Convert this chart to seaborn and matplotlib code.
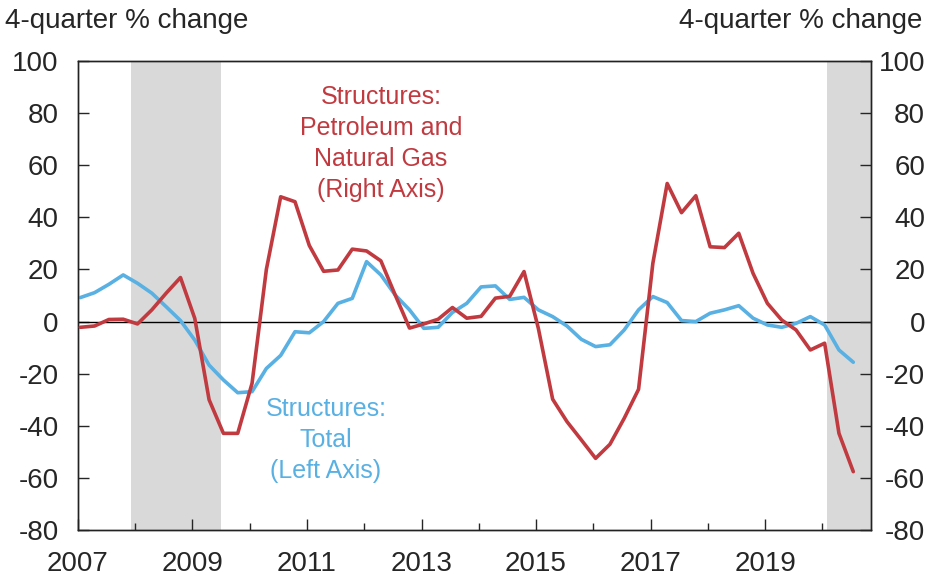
import numpy as np
import pandas as pd
import matplotlib
matplotlib.use("Agg")
import matplotlib.pyplot as plt
import seaborn as sns

# Quarterly data, 2007Q1 .. 2020Q3
start_year = 2007
total_structures = [9.2, 11.1, 14.3, 17.9, 14.7, 10.9, 5.7, 0.4, -7.1, -16.7,
                    -22.4, -27.3, -26.9, -18.0, -13.0, -3.9, -4.3, 0.0, 7.0, 8.9,
                    23.0, 17.9, 10.2, 4.5, -2.6, -2.2, 3.5, 7.0, 13.3, 13.7,
                    8.5, 9.3, 4.5, 1.9, -1.7, -6.8, -9.6, -8.9, -3.2, 4.5,
                    9.6, 7.3, 0.4, 0.0, 3.2, 4.5, 6.1, 1.3, -1.3, -2.2,
                    -0.7, 1.9, -1.3, -10.9, -15.6]
petroleum_gas = [-2.2, -1.7, 0.8, 0.9, -0.9, 4.5, 10.9, 16.9, 1.2, -30.0,
                 -42.9, -42.9, -23.7, 20.0, 47.9, 46.0, 29.2, 19.3, 19.8, 27.8,
                 27.1, 23.3, 10.2, -2.5, -0.9, 0.9, 5.4, 1.3, 2.0, 9.0,
                 9.7, 19.2, -2.6, -29.8, -38.4, -45.4, -52.5, -47.1, -37.1, -26.0,
                 22.4, 53.0, 41.8, 48.3, 28.7, 28.4, 33.9, 18.5, 7.0, 0.6,
                 -3.2, -10.9, -8.3, -42.9, -57.6]
recessions = [(2007.92, 2009.5), (2020.08, 2020.85)]
year_labels = [2007, 2009, 2011, 2013, 2015, 2017, 2019]

t = start_year + np.arange(len(total_structures)) / 4 + 0.04
df = pd.DataFrame({"t": t, "total": total_structures, "petro": petroleum_gas})

RED = "#C03A40"
BLUE = "#58B0E3"

sns.set_style("ticks")
plt.rcParams['font.family'] = ['Liberation Sans', 'DejaVu Sans']
plt.rcParams['axes.unicode_minus'] = False

fig = plt.figure(figsize=(9.44, 5.79), dpi=100)
ax = fig.add_axes([0.0826, 0.0846, 0.9227 - 0.0826, 0.8946 - 0.0846])
ax2 = ax.twinx()

for a, b in recessions:
    ax.axvspan(a, b, color="#D9D9D9", lw=0, zorder=0)
ax.axhline(0, color="black", lw=1.0, zorder=1)

sns.lineplot(data=df, x="t", y="total", ax=ax, color=BLUE, lw=2.6, zorder=3)
sns.lineplot(data=df, x="t", y="petro", ax=ax2, color=RED, lw=2.6, zorder=3)

for a in (ax, ax2):
    a.set_ylim(-80, 100)
    a.set_yticks(np.arange(-80, 101, 20))
    a.set_xlim(2007, 2020.85)
    a.set_xlabel("")
    a.set_ylabel("")
    for s in a.spines.values():
        s.set_linewidth(1.0)
        s.set_color("#222222")

ax.set_xticks(year_labels)
ax.set_xticklabels([str(y) for y in year_labels])
ax.set_xticks(np.arange(2008, 2021, 2), minor=True)
ax.tick_params(axis="x", which="major", direction="in", length=8, width=1,
               labelsize=20, pad=15)
ax.tick_params(axis="x", which="minor", direction="in", length=5, width=1)
ax.tick_params(axis="y", direction="in", length=8, width=1, labelsize=20, pad=14)
ax2.tick_params(axis="y", direction="in", length=8, width=1, labelsize=20, pad=39)
for lab in ax2.get_yticklabels():
    lab.set_horizontalalignment("right")

ax.text(2012.29, 68.3, "Structures:\nPetroleum and\nNatural Gas\n(Right Axis)",
        color=RED, fontsize=18, ha="center", va="center", linespacing=1.38)
ax.text(2011.33, -45.4, "Structures:\nTotal\n(Left Axis)",
        color=BLUE, fontsize=18, ha="center", va="center", linespacing=1.38)

fig.text(5 / 944, 1 - 21 / 579, "4-quarter % change", fontsize=20,
         ha="left", va="center")
fig.text(922 / 944, 1 - 21 / 579, "4-quarter % change", fontsize=20,
         ha="right", va="center")

fig.savefig("out.png", dpi=100)
